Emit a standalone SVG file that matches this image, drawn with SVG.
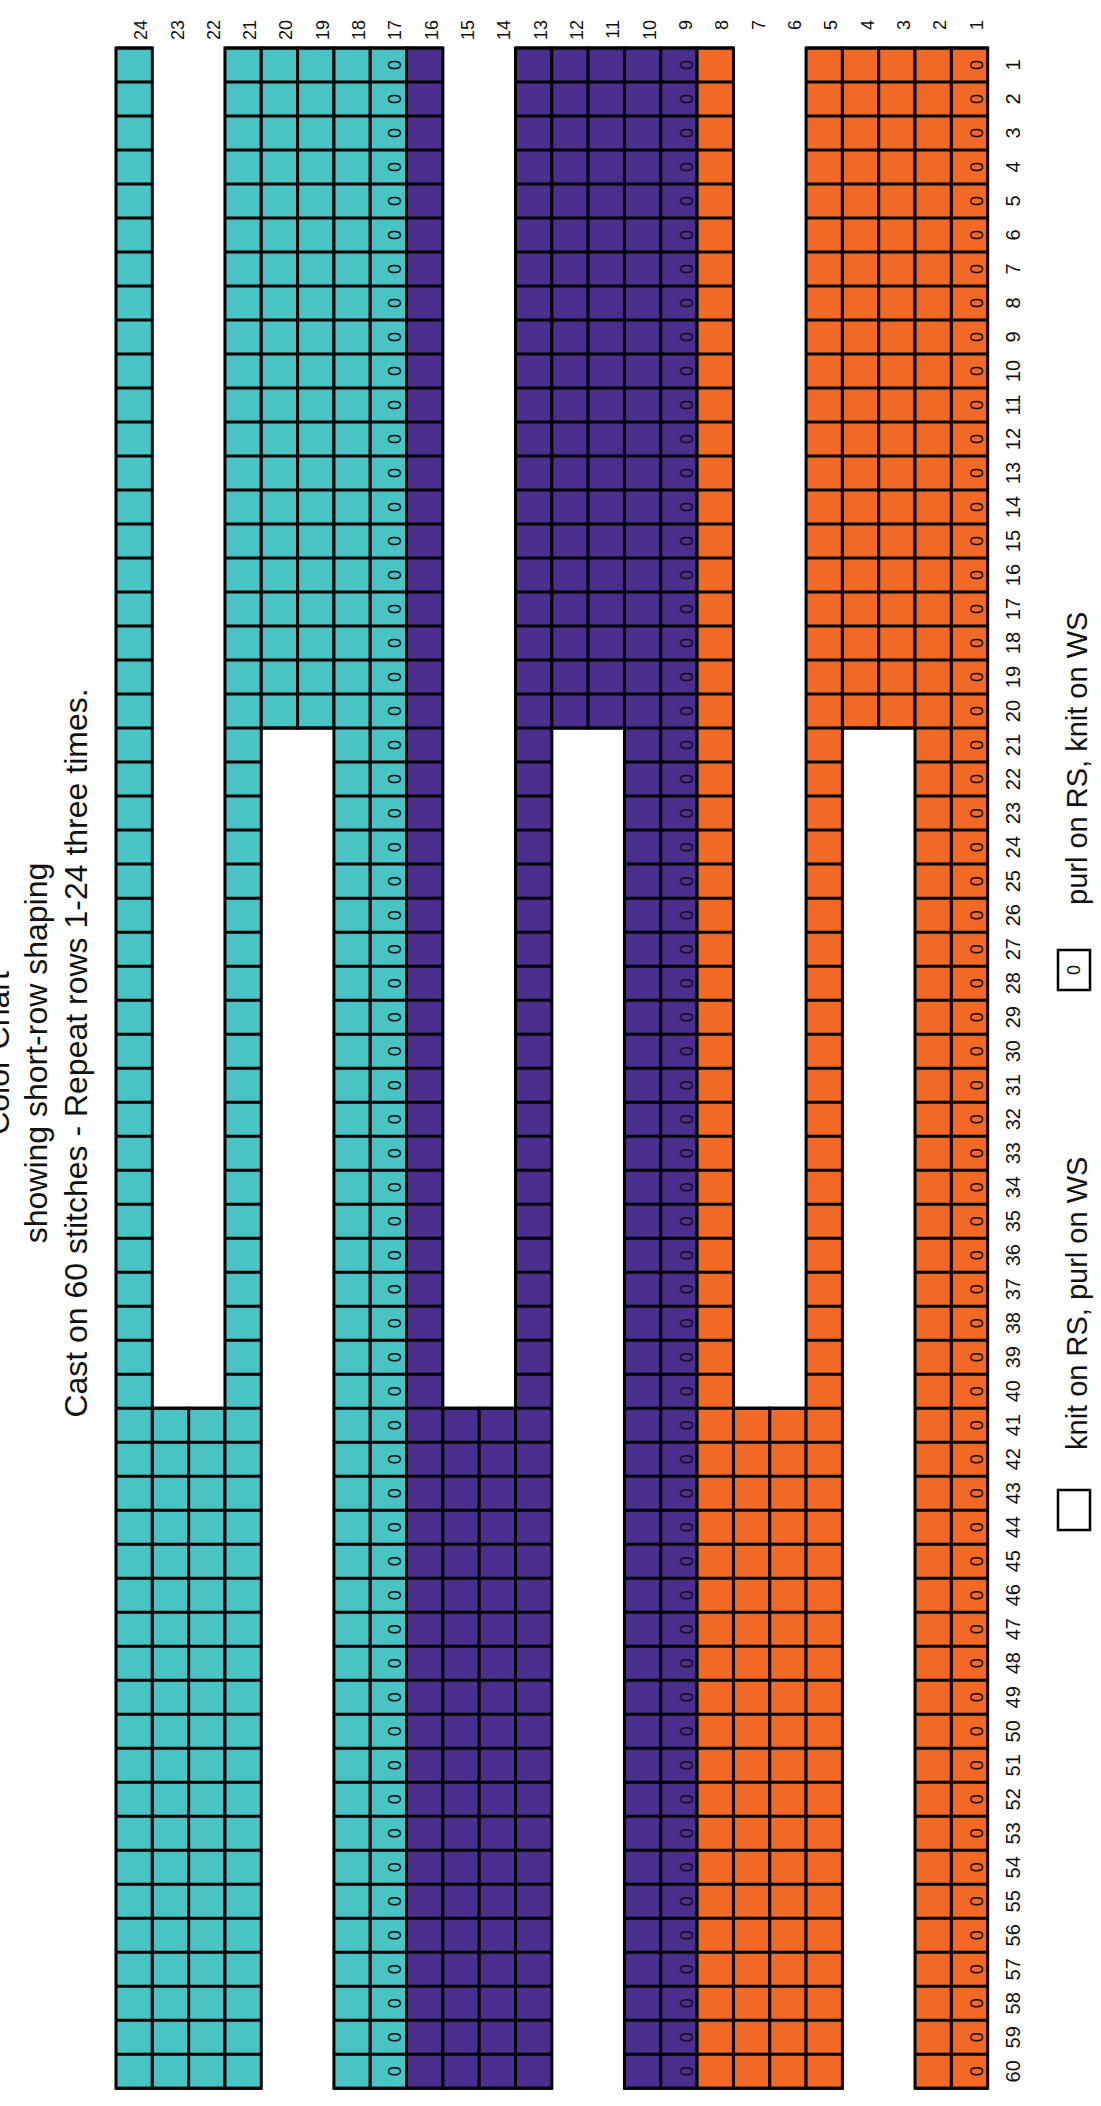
<svg xmlns="http://www.w3.org/2000/svg" xmlns:xlink="http://www.w3.org/1999/xlink" width="1101" height="2106" viewBox="0 0 1101 2106">
<style>
text{font-family:"Liberation Sans",Arial,sans-serif;fill:#111}
.t{fill:#49C3C4}.p{fill:#4B2E8E}.o{fill:#F26925}
.c{stroke:#000;stroke-width:3}
.hl{stroke:#000;stroke-dasharray:3 31.005;stroke-width:36.32;fill:none}
.title{font-size:32px;text-anchor:middle}
.rl{font-size:18px;text-anchor:end}
.sl{font-size:20px;text-anchor:middle}
.z{font-size:18px;text-anchor:middle}
.leg{font-size:29px}
</style>
<defs>
<text id="zeros" class="z" y="0" x="-65.00 -99.01 -133.01 -167.02 -201.02 -235.03 -269.03 -303.04 -337.04 -371.05 -405.06 -439.06 -473.07 -507.07 -541.08 -575.08 -609.09 -643.09 -677.10 -711.10 -745.11 -779.11 -813.12 -847.12 -881.13 -915.13 -949.14 -983.14 -1017.15 -1051.15 -1085.16 -1119.16 -1153.17 -1187.17 -1221.18 -1255.18 -1289.19 -1323.19 -1357.20 -1391.20 -1425.21 -1459.21 -1493.22 -1527.22 -1561.23 -1595.23 -1629.24 -1663.24 -1697.25 -1731.25 -1765.26 -1799.26 -1833.27 -1867.27 -1901.28 -1935.28 -1969.29 -2003.29 -2037.30 -2071.30">000000000000000000000000000000000000000000000000000000000000</text>
</defs>

<g id="title">
<text class="title" transform="rotate(-90)"><tspan x="-1053" y="9">Color Chart</tspan><tspan x="-1053" y="47">showing short-row shaping</tspan><tspan x="-1053" y="87">Cast on 60 stitches - Repeat rows 1-24 three times.</tspan></text>
</g>

<g id="chart">
<g id="cells">
<rect class="c t" x="116" y="48" width="36.32" height="2040.3"/>
<rect class="c t" x="152.32" y="1408.2" width="36.32" height="680.1"/>
<rect class="c t" x="188.64" y="1408.2" width="36.32" height="680.1"/>
<rect class="c t" x="224.96" y="48" width="36.32" height="2040.3"/>
<rect class="c t" x="261.28" y="48" width="36.32" height="680.1"/>
<rect class="c t" x="297.60" y="48" width="36.32" height="680.1"/>
<rect class="c t" x="333.92" y="48" width="36.32" height="2040.3"/>
<rect class="c t" x="370.24" y="48" width="36.32" height="2040.3"/>
<rect class="c p" x="406.56" y="48" width="36.32" height="2040.3"/>
<rect class="c p" x="442.88" y="1408.2" width="36.32" height="680.1"/>
<rect class="c p" x="479.20" y="1408.2" width="36.32" height="680.1"/>
<rect class="c p" x="515.52" y="48" width="36.32" height="2040.3"/>
<rect class="c p" x="551.84" y="48" width="36.32" height="680.1"/>
<rect class="c p" x="588.16" y="48" width="36.32" height="680.1"/>
<rect class="c p" x="624.48" y="48" width="36.32" height="2040.3"/>
<rect class="c p" x="660.80" y="48" width="36.32" height="2040.3"/>
<rect class="c o" x="697.12" y="48" width="36.32" height="2040.3"/>
<rect class="c o" x="733.44" y="1408.2" width="36.32" height="680.1"/>
<rect class="c o" x="769.76" y="1408.2" width="36.32" height="680.1"/>
<rect class="c o" x="806.08" y="48" width="36.32" height="2040.3"/>
<rect class="c o" x="842.40" y="48" width="36.32" height="680.1"/>
<rect class="c o" x="878.72" y="48" width="36.32" height="680.1"/>
<rect class="c o" x="915.04" y="48" width="36.32" height="2040.3"/>
<rect class="c o" x="951.36" y="48" width="36.32" height="2040.3"/>
</g>
<g id="gridlines">
<path class="hl" d="M134.16 46.5V2089.8M243.12 46.5V2089.8M352.08 46.5V2089.8M388.40 46.5V2089.8M424.72 46.5V2089.8M533.68 46.5V2089.8M642.64 46.5V2089.8M678.96 46.5V2089.8M715.28 46.5V2089.8M824.24 46.5V2089.8M933.20 46.5V2089.8M969.52 46.5V2089.8"/>
<path class="hl" d="M170.48 1406.7V2089.8M206.80 1406.7V2089.8M461.04 1406.7V2089.8M497.36 1406.7V2089.8M751.60 1406.7V2089.8M787.92 1406.7V2089.8"/>
<path class="hl" d="M279.44 46.5V729.6M315.76 46.5V729.6M570.00 46.5V729.6M606.32 46.5V729.6M860.56 46.5V729.6M896.88 46.5V729.6"/>
</g>
<g id="purl-marks">
<use xlink:href="#zeros" transform="translate(401.4,0) rotate(-90)"/>
<use xlink:href="#zeros" transform="translate(692.5,0) rotate(-90)"/>
<use xlink:href="#zeros" transform="translate(983,0) rotate(-90)"/>
</g>
</g>

<g id="row-labels">
<text class="rl" transform="rotate(-90)"><tspan x="-20" y="147.2">24</tspan><tspan x="-20" y="183.5">23</tspan><tspan x="-20" y="219.8">22</tspan><tspan x="-20" y="256.1">21</tspan><tspan x="-20" y="292.4">20</tspan><tspan x="-20" y="328.8">19</tspan><tspan x="-20" y="365.1">18</tspan><tspan x="-20" y="401.4">17</tspan><tspan x="-20" y="437.7">16</tspan><tspan x="-20" y="474.0">15</tspan><tspan x="-20" y="510.4">14</tspan><tspan x="-20" y="546.7">13</tspan><tspan x="-20" y="583.0">12</tspan><tspan x="-20" y="619.3">11</tspan><tspan x="-20" y="655.6">10</tspan><tspan x="-20" y="692.0">9</tspan><tspan x="-20" y="728.3">8</tspan><tspan x="-20" y="764.6">7</tspan><tspan x="-20" y="800.9">6</tspan><tspan x="-20" y="837.2">5</tspan><tspan x="-20" y="873.6">4</tspan><tspan x="-20" y="909.9">3</tspan><tspan x="-20" y="946.2">2</tspan><tspan x="-20" y="982.5">1</tspan></text>
</g>

<g id="stitch-labels">
<text class="sl" transform="rotate(-90)"><tspan x="-65.00" y="1020">1</tspan><tspan x="-99.01" y="1020">2</tspan><tspan x="-133.01" y="1020">3</tspan><tspan x="-167.02" y="1020">4</tspan><tspan x="-201.02" y="1020">5</tspan><tspan x="-235.03" y="1020">6</tspan><tspan x="-269.03" y="1020">7</tspan><tspan x="-303.04" y="1020">8</tspan><tspan x="-337.04" y="1020">9</tspan><tspan x="-371.05" y="1020">10</tspan><tspan x="-405.06" y="1020">11</tspan><tspan x="-439.06" y="1020">12</tspan><tspan x="-473.07" y="1020">13</tspan><tspan x="-507.07" y="1020">14</tspan><tspan x="-541.08" y="1020">15</tspan><tspan x="-575.08" y="1020">16</tspan><tspan x="-609.09" y="1020">17</tspan><tspan x="-643.09" y="1020">18</tspan><tspan x="-677.10" y="1020">19</tspan><tspan x="-711.10" y="1020">20</tspan><tspan x="-745.11" y="1020">21</tspan><tspan x="-779.11" y="1020">22</tspan><tspan x="-813.12" y="1020">23</tspan><tspan x="-847.12" y="1020">24</tspan><tspan x="-881.13" y="1020">25</tspan><tspan x="-915.13" y="1020">26</tspan><tspan x="-949.14" y="1020">27</tspan><tspan x="-983.14" y="1020">28</tspan><tspan x="-1017.15" y="1020">29</tspan><tspan x="-1051.15" y="1020">30</tspan><tspan x="-1085.16" y="1020">31</tspan><tspan x="-1119.16" y="1020">32</tspan><tspan x="-1153.17" y="1020">33</tspan><tspan x="-1187.17" y="1020">34</tspan><tspan x="-1221.18" y="1020">35</tspan><tspan x="-1255.18" y="1020">36</tspan><tspan x="-1289.19" y="1020">37</tspan><tspan x="-1323.19" y="1020">38</tspan><tspan x="-1357.20" y="1020">39</tspan><tspan x="-1391.20" y="1020">40</tspan><tspan x="-1425.21" y="1020">41</tspan><tspan x="-1459.21" y="1020">42</tspan><tspan x="-1493.22" y="1020">43</tspan><tspan x="-1527.22" y="1020">44</tspan><tspan x="-1561.23" y="1020">45</tspan><tspan x="-1595.23" y="1020">46</tspan><tspan x="-1629.24" y="1020">47</tspan><tspan x="-1663.24" y="1020">48</tspan><tspan x="-1697.25" y="1020">49</tspan><tspan x="-1731.25" y="1020">50</tspan><tspan x="-1765.26" y="1020">51</tspan><tspan x="-1799.26" y="1020">52</tspan><tspan x="-1833.27" y="1020">53</tspan><tspan x="-1867.27" y="1020">54</tspan><tspan x="-1901.28" y="1020">55</tspan><tspan x="-1935.28" y="1020">56</tspan><tspan x="-1969.29" y="1020">57</tspan><tspan x="-2003.29" y="1020">58</tspan><tspan x="-2037.30" y="1020">59</tspan><tspan x="-2071.30" y="1020">60</tspan></text>
</g>

<g id="legend">
<g id="legend-purl">
<rect x="1058" y="950" width="32" height="40" fill="#fff" stroke="#000" stroke-width="2.5"/>
<text class="z" transform="rotate(-90)" x="-970" y="1080">0</text>
<text class="leg" transform="rotate(-90)" x="-905" y="1087">purl on RS, knit on WS</text>
</g>
<g id="legend-knit">
<rect x="1058" y="1490" width="32" height="40" fill="#fff" stroke="#000" stroke-width="2.5"/>
<text class="leg" transform="rotate(-90)" x="-1450" y="1087">knit on RS, purl on WS</text>
</g>
</g>
</svg>
